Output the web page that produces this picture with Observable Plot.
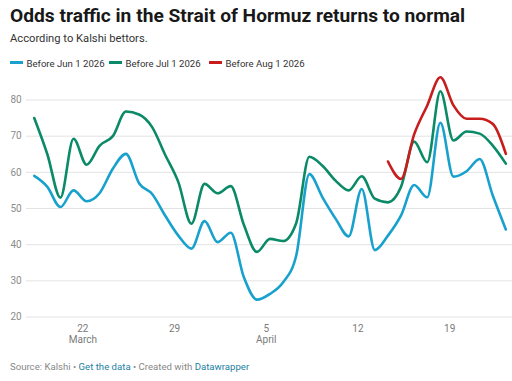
<!DOCTYPE html>
<html>
<head>
<meta charset="utf-8">
<script src="https://cdn.jsdelivr.net/npm/d3@7"></script>
<script src="https://cdn.jsdelivr.net/npm/@observablehq/plot@0.6"></script>
<style>
  html, body { margin: 0; padding: 0; background: #fff; }
  body { width: 512px; height: 381px; position: relative; overflow: hidden; font-family: Roboto, "Noto Sans", sans-serif; }
  .abs { position: absolute; left: 10px; line-height: 1; white-space: nowrap; }
  #title { top: 5.5px; font-size: 19.2px; font-weight: 700; color: #181818; }
  #subtitle { top: 33.3px; font-size: 11.2px; color: #333; }
  #legend { position: absolute; left: 0; top: 0; font-size: 9.6px; color: #333; }
  #legend .sw { position: absolute; top: 61px; width: 13px; height: 2.6px; }
  #legend .lt { position: absolute; top: 59.4px; line-height: 1; white-space: nowrap; }
  #chart { position: absolute; left: 0; top: 60px; }
  #footer { top: 361.9px; font-size: 9.6px; color: #888; }
  #footer a { color: #1d81a2; text-decoration: none; }
</style>
</head>
<body>
<div id="chart"></div>
<div id="title" class="abs">Odds traffic in the Strait of Hormuz returns to normal</div>
<div id="subtitle" class="abs">According to Kalshi bettors.</div>
<div id="legend"></div>
<div id="footer" class="abs">Source: Kalshi • <a>Get the data</a> • Created with <a>Datawrapper</a></div>
<script>
// Daily observations, Mar 18 – Apr 23, 2026
const dates = [
  "2026-03-18","2026-03-19","2026-03-20","2026-03-21","2026-03-22","2026-03-23","2026-03-24",
  "2026-03-25","2026-03-26","2026-03-27","2026-03-28","2026-03-29","2026-03-30","2026-03-31",
  "2026-04-01","2026-04-02","2026-04-03","2026-04-04","2026-04-05","2026-04-06","2026-04-07",
  "2026-04-08","2026-04-09","2026-04-10","2026-04-11","2026-04-12","2026-04-13","2026-04-14",
  "2026-04-15","2026-04-16","2026-04-17","2026-04-18","2026-04-19","2026-04-20","2026-04-21",
  "2026-04-22","2026-04-23"
];
const beforeJun1 = [
  59.0, 56.0, 50.4, 55.0, 52.0, 54.3, 61.0, 65.1, 57.0, 54.0, 48.0, 42.5, 38.9, 46.5,
  40.7, 43.3, 31.0, 24.8, 26.4, 29.6, 37.0, 59.5, 53.1, 47.2, 42.3, 55.4, 38.5, 42.5,
  48.1, 56.5, 53.1, 73.7, 58.8, 60.3, 63.7, 53.6, 44.2
];
const beforeJul1 = [
  75.0, 65.0, 53.0, 69.3, 62.1, 67.4, 70.0, 76.8, 76.0, 72.5, 64.8, 57.3, 45.8, 56.8,
  54.2, 56.2, 45.5, 38.0, 41.6, 41.0, 46.0, 64.3, 61.8, 57.7, 55.0, 58.9, 52.7, 51.7,
  56.0, 68.5, 62.8, 82.4, 68.8, 71.3, 70.7, 67.4, 62.4
];
// starts Apr 14
const augStart = "2026-04-14";
const beforeAug1 = [63.0, 58.2, 70.5, 78.5, 86.3, 78.5, 74.8, 74.8, 73.4, 65.1];

const seriesNames = ["Before Jun 1 2026", "Before Jul 1 2026", "Before Aug 1 2026"];
const seriesColors = ["#18a1cd", "#0b8a67", "#c71e1d"];

const yTicks = [20, 30, 40, 50, 60, 70, 80];
const xTickDates = ["2026-03-22", "2026-03-29", "2026-04-05", "2026-04-12", "2026-04-19"];
const xTickLabels = ["22\nMarch", "29", "5\nApril", "12", "19"];

// build table (observations recorded in the morning)
const t = s => new Date(s + "T07:00Z");
const rows = [];
dates.forEach((d, i) => rows.push({date: t(d), value: beforeJun1[i], series: seriesNames[0]}));
dates.forEach((d, i) => rows.push({date: t(d), value: beforeJul1[i], series: seriesNames[1]}));
const augIdx = dates.indexOf(augStart);
beforeAug1.forEach((v, i) => rows.push({date: t(dates[augIdx + i]), value: v, series: seriesNames[2]}));

const tickDates = xTickDates.map(s => new Date(s + "T00:00Z"));
const labelFor = new Map(tickDates.map((d, i) => [+d, xTickLabels[i]]));

// legend
const legend = document.getElementById("legend");
const legendX = [10, 109, 209];
seriesNames.forEach((n, i) => {
  const sw = document.createElement("span");
  sw.className = "sw";
  sw.style.left = legendX[i] + "px";
  sw.style.background = seriesColors[i];
  legend.appendChild(sw);
  const lt = document.createElement("span");
  lt.className = "lt";
  lt.style.left = (legendX[i] + 16.5) + "px";
  lt.textContent = n;
  legend.appendChild(lt);
});

const chart = Plot.plot({
  width: 512,
  height: 285,
  marginLeft: 26,
  marginRight: 0,
  marginTop: 39.5,
  marginBottom: 28.5,
  style: {fontFamily: "Roboto, sans-serif", fontSize: "10px", background: "transparent", overflow: "visible"},
  x: {type: "utc", domain: [new Date("2026-03-17T16:50Z"), new Date("2026-04-23T19:10Z")]},
  y: {domain: [20, 80]},
  color: {domain: seriesNames, range: seriesColors},
  marks: [
    Plot.gridY(yTicks, {stroke: "#e3e3e3", strokeOpacity: 1, strokeWidth: 1}),
    Plot.axisY(yTicks, {tickSize: 0, tickPadding: 0, textAnchor: "start", dx: -16, fill: "#8c8c8c", label: null, fontSize: 10}),
    Plot.axisX(tickDates, {tickSize: 0, tickPadding: 6.5, fill: "#7a7a7a", label: null, lineHeight: 1.15, fontSize: 10,
      tickFormat: d => labelFor.get(+d)}),
    Plot.line(rows, {x: "date", y: "value", z: "series", stroke: "series", strokeWidth: 2.6,
      curve: "monotone-x", strokeLinejoin: "round", strokeLinecap: "round"})
  ]
});
document.getElementById("chart").appendChild(chart);
</script>
</body>
</html>
